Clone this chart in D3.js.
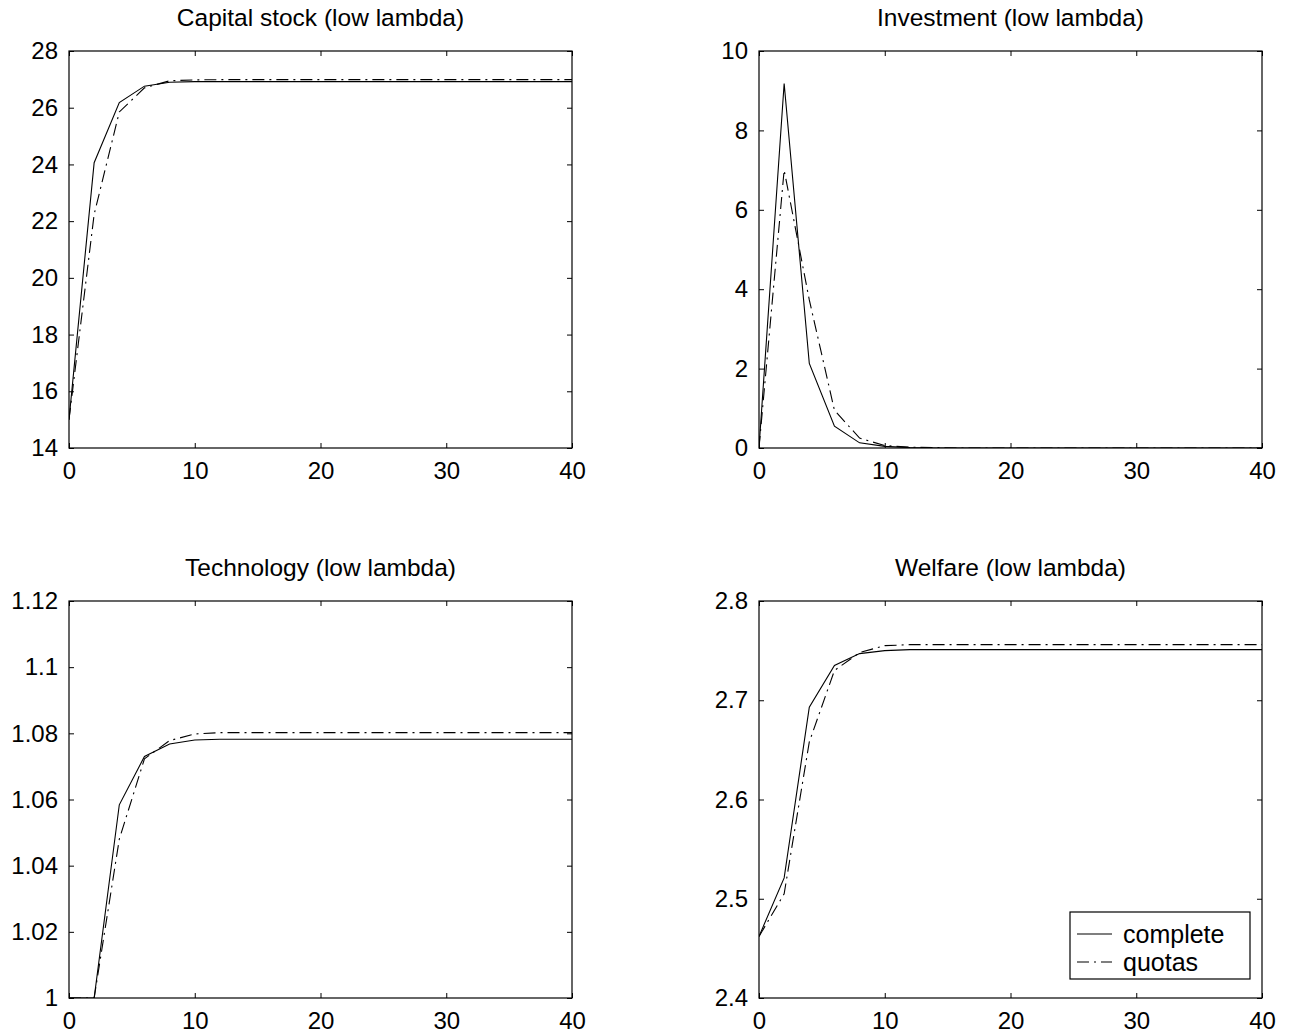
<!DOCTYPE html>
<html>
<head>
<meta charset="utf-8">
<script src="https://cdn.jsdelivr.net/npm/d3@7"></script>
<style>
  html, body { margin: 0; padding: 0; background: #fff; }
  svg { display: block; }
  text { font-family: "Liberation Sans", Arial, Helvetica, sans-serif; fill: #000; }
</style>
</head>
<body>
<svg id="chart" width="1295" height="1036"></svg>
<script>
// ---------- data ----------
const periods = [0, 2, 4, 6, 8, 10, 12, 14, 16, 18, 20, 22, 24, 26, 28, 30, 32, 34, 36, 38, 40];
const xTicks = [0, 10, 20, 30, 40];

const capitalComplete = [15.0, 24.06, 26.18, 26.76, 26.90, 26.92, 26.92, 26.92, 26.92, 26.92, 26.92, 26.92, 26.92, 26.92, 26.92, 26.92, 26.92, 26.92, 26.92, 26.92, 26.92];
const capitalQuotas   = [15.0, 22.24, 25.85, 26.70, 26.95, 26.98, 26.99, 26.99, 26.99, 26.99, 26.99, 26.99, 26.99, 26.99, 26.99, 26.99, 26.99, 26.99, 26.99, 26.99, 26.99];
const capitalTicks = [14, 16, 18, 20, 22, 24, 26, 28];

const investComplete = [0, 9.18, 2.13, 0.55, 0.13, 0.04, 0.01, 0, 0, 0, 0, 0, 0, 0, 0, 0, 0, 0, 0, 0, 0];
const investQuotas   = [0, 7.00, 3.73, 0.95, 0.25, 0.06, 0.02, 0.01, 0, 0, 0, 0, 0, 0, 0, 0, 0, 0, 0, 0, 0];
const investTicks = [0, 2, 4, 6, 8, 10];

const techComplete = [1.0, 1.0, 1.0584, 1.0730, 1.0768, 1.0780, 1.0782, 1.0782, 1.0782, 1.0782, 1.0782, 1.0782, 1.0782, 1.0782, 1.0782, 1.0782, 1.0782, 1.0782, 1.0782, 1.0782, 1.0782];
const techQuotas   = [1.0, 1.0, 1.0480, 1.0723, 1.0778, 1.0798, 1.0802, 1.0802, 1.0802, 1.0802, 1.0802, 1.0802, 1.0802, 1.0802, 1.0802, 1.0802, 1.0802, 1.0802, 1.0802, 1.0802, 1.0802];
const techTicks = [1, 1.02, 1.04, 1.06, 1.08, 1.1, 1.12];

const welfareComplete = [2.462, 2.521, 2.693, 2.735, 2.747, 2.750, 2.751, 2.751, 2.751, 2.751, 2.751, 2.751, 2.751, 2.751, 2.751, 2.751, 2.751, 2.751, 2.751, 2.751, 2.751];
const welfareQuotas   = [2.462, 2.505, 2.658, 2.730, 2.748, 2.755, 2.756, 2.756, 2.756, 2.756, 2.756, 2.756, 2.756, 2.756, 2.756, 2.756, 2.756, 2.756, 2.756, 2.756, 2.756];
const welfareTicks = [2.4, 2.5, 2.6, 2.7, 2.8];

const titles = ["Capital stock (low lambda)", "Investment (low lambda)", "Technology (low lambda)", "Welfare (low lambda)"];
const seriesNames = ["complete", "quotas"];

// ---------- layout ----------
const svg = d3.select("#chart");
const panelW = 503, panelH = 397;
const lefts = [69, 759];
const tops = [51, 601];
const dashDot = "12,5,2,5";

const panels = [
  { title: titles[0], a: capitalComplete, b: capitalQuotas, ticks: capitalTicks, col: 0, row: 0 },
  { title: titles[1], a: investComplete, b: investQuotas, ticks: investTicks, col: 1, row: 0 },
  { title: titles[2], a: techComplete, b: techQuotas, ticks: techTicks, col: 0, row: 1 },
  { title: titles[3], a: welfareComplete, b: welfareQuotas, ticks: welfareTicks, col: 1, row: 1, legend: true }
];

panels.forEach((p, i) => {
  const L = lefts[p.col], T = tops[p.row];
  const g = svg.append("g").attr("transform", `translate(${L},${T})`);
  const x = d3.scaleLinear().domain([0, 40]).range([0, panelW]);
  const y = d3.scaleLinear().domain([p.ticks[0], p.ticks[p.ticks.length - 1]]).range([panelH, 0]);

  const clipId = "clip" + i;
  g.append("clipPath").attr("id", clipId).append("rect")
    .attr("x", 0).attr("y", 0).attr("width", panelW).attr("height", panelH);

  // lines
  const line = d3.line().x((d, k) => x(periods[k])).y(d => y(d));
  g.append("path").datum(p.a).attr("d", line)
    .attr("fill", "none").attr("stroke", "#000").attr("stroke-width", 1.1)
    .attr("clip-path", `url(#${clipId})`);
  g.append("path").datum(p.b).attr("d", line)
    .attr("fill", "none").attr("stroke", "#000").attr("stroke-width", 1.1)
    .attr("stroke-dasharray", dashDot)
    .attr("clip-path", `url(#${clipId})`);

  // axes (inside ticks, labels)
  const fmt = d => String(+d.toFixed(4));
  const axB = d3.axisBottom(x).tickValues(xTicks).tickSize(-5).tickPadding(14).tickFormat(fmt);
  const axT = d3.axisTop(x).tickValues(xTicks).tickSize(-5).tickFormat("");
  const axL = d3.axisLeft(y).tickValues(p.ticks).tickSize(-5).tickPadding(11).tickFormat(fmt);
  const axR = d3.axisRight(y).tickValues(p.ticks).tickSize(-5).tickFormat("");

  const gb = g.append("g").attr("transform", `translate(0,${panelH})`).call(axB);
  const gt = g.append("g").call(axT);
  const gl = g.append("g").call(axL);
  const gr = g.append("g").attr("transform", `translate(${panelW},0)`).call(axR);
  [gb, gt, gl, gr].forEach(a => {
    a.select(".domain").remove();
    a.selectAll("line").attr("stroke", "#000").attr("stroke-width", 1);
    a.selectAll("text").style("font-family", "Liberation Sans, Arial, sans-serif").style("font-size", "24px").attr("fill", "#000");
  });
  gb.selectAll("text").attr("dy", "0.71em").attr("y", 14);

  // frame
  g.append("rect").attr("x", 0).attr("y", 0).attr("width", panelW).attr("height", panelH)
    .attr("fill", "none").attr("stroke", "#000").attr("stroke-width", 1.2);

  // title
  g.append("text").attr("x", panelW / 2).attr("y", -25).attr("text-anchor", "middle")
    .style("font-size", "24.5px").text(p.title);

  if (p.legend) {
    const lg = g.append("g").attr("transform", `translate(${311},${311})`);
    lg.append("rect").attr("x", 0).attr("y", 0).attr("width", 180).attr("height", 67)
      .attr("fill", "#fff").attr("stroke", "#000").attr("stroke-width", 1.2);
    seriesNames.forEach((name, k) => {
      const yy = 22 + k * 28;
      lg.append("line").attr("x1", 7).attr("x2", 42).attr("y1", yy).attr("y2", yy)
        .attr("stroke", "#000").attr("stroke-width", 1.1)
        .attr("stroke-dasharray", k === 1 ? dashDot : null);
      lg.append("text").attr("x", 53).attr("y", yy).attr("dy", "0.35em")
        .style("font-size", "25px").text(name);
    });
  }
});
</script>
</body>
</html>
